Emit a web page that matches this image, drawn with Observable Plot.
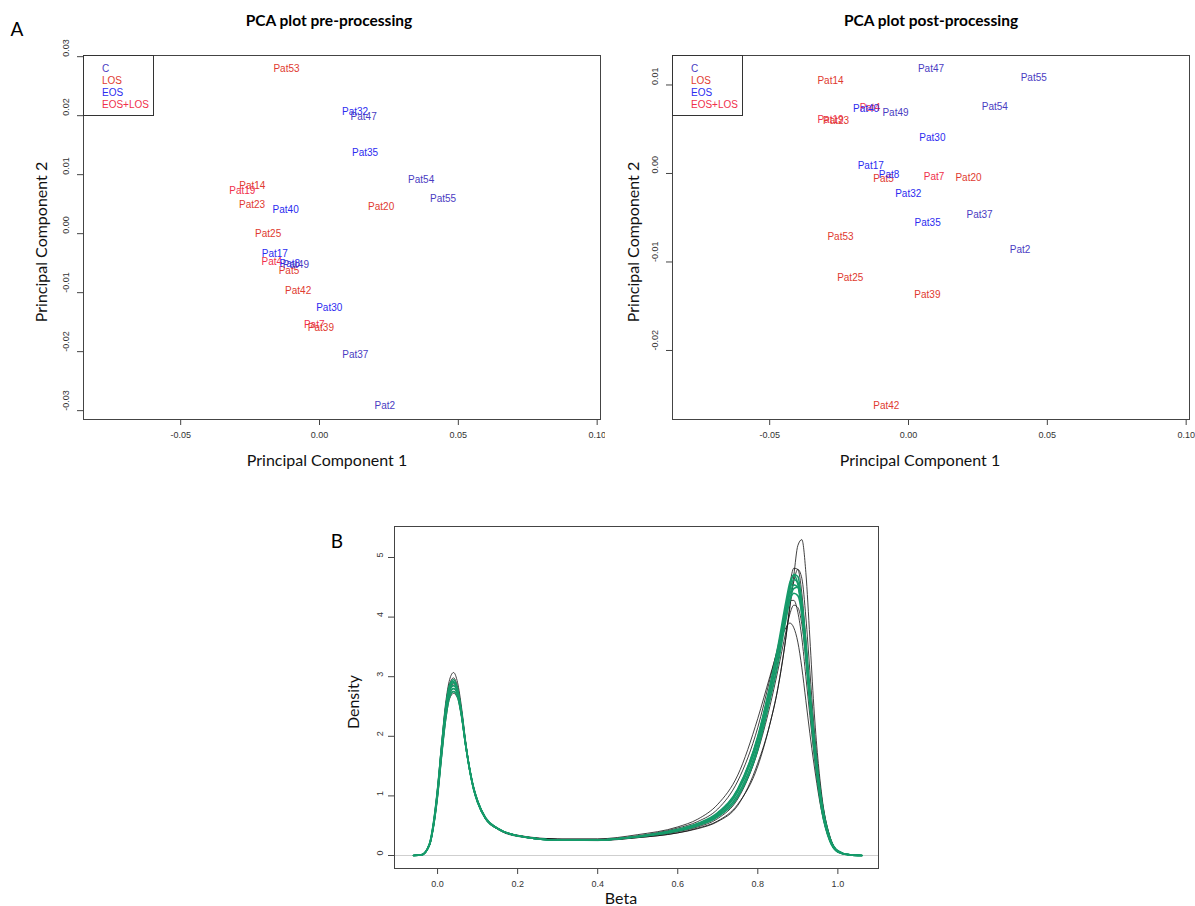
<!DOCTYPE html>
<html><head><meta charset="utf-8">
<script src="https://cdn.jsdelivr.net/npm/d3@7"></script>
<script src="https://cdn.jsdelivr.net/npm/@observablehq/plot@0.6"></script>
<style>
body{margin:0;background:#fff;}
#wrap{position:relative;width:1195px;height:906px;overflow:hidden;font-family:"Liberation Sans",Arial,sans-serif;background:#fff;}
.abs{position:absolute;}
.title{font-family:Lato,"Open Sans",sans-serif;font-weight:bold;font-size:15.5px;color:#000;transform:translate(-50%,-50%);white-space:nowrap;}
.axt{font-family:Lato,"Open Sans",sans-serif;font-size:16px;color:#111;transform:translate(-50%,-50%);white-space:nowrap;}
.rot{transform:translate(-50%,-50%) rotate(-90deg);}
.panel{font-family:Lato,"Open Sans",sans-serif;font-size:19px;color:#000;transform:translate(-50%,-50%);}
.legend{border:1px solid #333;box-sizing:border-box;font-size:10px;font-family:"Liberation Sans",Arial,sans-serif;}
.legend div{position:absolute;left:18px;white-space:nowrap;transform:translateY(-50%);}
.chart{position:absolute;}
</style>
</head><body>
<div id="wrap"></div>
<script>
// ---------- PCA data ----------
const patients = ["Pat2","Pat4","Pat5","Pat7","Pat8","Pat14","Pat17","Pat19","Pat20","Pat23","Pat25","Pat30","Pat32","Pat35","Pat37","Pat39","Pat40","Pat42","Pat47","Pat49","Pat53","Pat54","Pat55"];
const groups   = ["C","EOS+LOS","LOS","EOS+LOS","EOS","LOS","EOS","EOS+LOS","LOS","LOS","LOS","EOS","EOS","EOS","C","LOS","EOS","LOS","C","C","LOS","C","C"];
const pc1Pre  = [0.0235,-0.0172,-0.0110,-0.0019,-0.0107,-0.0242,-0.0161,-0.0278,0.0222,-0.0243,-0.0185,0.0035,0.0128,0.0164,0.0129,0.0005,-0.0122,-0.0077,0.0159,-0.0085,-0.0119,0.0366,0.0445];
const pc2Pre  = [-0.0292,-0.0047,-0.0063,-0.0155,-0.0051,0.0081,-0.0034,0.0073,0.0046,0.0049,0.0000,-0.0125,0.0206,0.0137,-0.0206,-0.0159,0.0041,-0.0097,0.0198,-0.0053,0.0279,0.0091,0.0059];
const pc1Post = [0.0402,-0.0139,-0.0090,0.0092,-0.0070,-0.0281,-0.0136,-0.0281,0.0216,-0.0261,-0.0210,0.0086,-0.0001,0.0069,0.0256,0.0068,-0.0153,-0.0080,0.0081,-0.0047,-0.0245,0.0311,0.0451];
const pc2Post = [-0.0086,0.0074,-0.0006,-0.0004,-0.0001,0.0105,0.0009,0.0061,-0.0005,0.0059,-0.0118,0.0040,-0.0023,-0.0056,-0.0047,-0.0137,0.0073,-0.0263,0.0118,0.0068,-0.0072,0.0075,0.0108];
const groupNames  = ["C","LOS","EOS","EOS+LOS"];
const groupColors = ["#4a3cc2","#e03a30","#2c2cf0","#f0304c"];
const pcaXTicks = [-0.05,0,0.05,0.10];
const preYTicks = [-0.03,-0.02,-0.01,0,0.01,0.02,0.03];
const postYTicks = [-0.02,-0.01,0,0.01];

// ---------- Density data ----------
const betaGrid = [-0.06,-0.04,-0.02,-0.01,0,0.01,0.02,0.03,0.04,0.05,0.06,0.07,0.08,0.09,0.1,0.12,0.15,0.2,0.3,0.4,0.5,0.6,0.65,0.7,0.75,0.8,0.83,0.85,0.87,0.88,0.89,0.9,0.91,0.92,0.93,0.94,0.96,0.98,1.0,1.03,1.06];
const raw1 = [0,0.01,0.2,0.56,1.14,1.88,2.55,2.95,3.07,2.9,2.48,1.93,1.47,1.13,0.9,0.61,0.44,0.32,0.26,0.25,0.3,0.38,0.46,0.58,0.86,1.5,2.2,2.8,3.65,4.15,4.7,5.2,5.3,4.75,3.65,2.5,1.0,0.32,0.08,0.01,0];
const raw2 = [0,0.01,0.19,0.54,1.1,1.82,2.48,2.88,2.98,2.82,2.42,1.9,1.46,1.12,0.9,0.62,0.45,0.33,0.27,0.26,0.31,0.41,0.5,0.65,0.98,1.78,2.62,3.25,4.1,4.55,4.82,4.8,4.4,3.62,2.75,1.98,0.82,0.26,0.06,0.01,0];
const raw3 = [0,0.01,0.18,0.51,1.04,1.73,2.37,2.78,2.88,2.76,2.38,1.88,1.46,1.13,0.91,0.63,0.45,0.33,0.27,0.26,0.3,0.38,0.45,0.57,0.84,1.55,2.2,2.8,3.65,4.2,4.6,4.8,4.65,4.0,3.1,2.2,0.95,0.32,0.08,0.01,0];
const raw4 = [0,0.01,0.17,0.49,0.99,1.65,2.25,2.63,2.72,2.64,2.32,1.86,1.46,1.15,0.93,0.64,0.46,0.34,0.28,0.28,0.35,0.48,0.61,0.86,1.35,2.3,3.0,3.45,3.82,3.9,3.82,3.58,3.15,2.6,2.05,1.55,0.72,0.24,0.06,0.01,0];
const raw5 = [0,0.01,0.18,0.5,1.02,1.7,2.32,2.7,2.8,2.7,2.35,1.87,1.46,1.14,0.92,0.63,0.46,0.34,0.27,0.27,0.33,0.46,0.57,0.78,1.25,2.15,2.95,3.5,4.1,4.28,4.28,4.08,3.65,3.0,2.35,1.72,0.75,0.25,0.06,0.01,0];
const raw6 = [0,0.01,0.19,0.52,1.05,1.75,2.38,2.76,2.85,2.73,2.36,1.87,1.45,1.13,0.91,0.63,0.45,0.33,0.27,0.26,0.31,0.4,0.48,0.62,0.95,1.75,2.5,3.1,3.75,4.05,4.2,4.16,3.88,3.3,2.62,1.95,0.88,0.3,0.08,0.01,0];
const norm1 = [0,0.01,0.2,0.55,1.1,1.82,2.47,2.86,2.95,2.8,2.4,1.88,1.45,1.12,0.9,0.62,0.45,0.33,0.26,0.26,0.32,0.42,0.51,0.67,1.02,1.85,2.7,3.35,4.15,4.5,4.72,4.68,4.25,3.5,2.65,1.9,0.8,0.26,0.06,0.01,0];
const norm2 = [0,0.01,0.19,0.53,1.08,1.78,2.42,2.8,2.9,2.77,2.38,1.87,1.45,1.12,0.9,0.62,0.45,0.33,0.26,0.26,0.32,0.43,0.52,0.69,1.07,1.92,2.75,3.38,4.12,4.45,4.63,4.58,4.2,3.48,2.65,1.92,0.82,0.27,0.07,0.01,0];
const norm3 = [0,0.01,0.19,0.52,1.05,1.75,2.38,2.76,2.85,2.73,2.36,1.86,1.44,1.12,0.9,0.62,0.45,0.33,0.26,0.26,0.32,0.43,0.53,0.7,1.1,1.97,2.8,3.4,4.08,4.38,4.54,4.5,4.15,3.45,2.65,1.95,0.85,0.28,0.07,0.01,0];
const norm4 = [0,0.01,0.18,0.5,1.02,1.7,2.33,2.71,2.8,2.7,2.35,1.86,1.45,1.13,0.91,0.63,0.45,0.33,0.26,0.26,0.31,0.41,0.5,0.65,0.98,1.78,2.6,3.2,3.95,4.3,4.48,4.5,4.22,3.6,2.8,2.05,0.9,0.3,0.08,0.01,0];
const norm5 = [0,0.01,0.2,0.56,1.12,1.83,2.46,2.84,2.92,2.76,2.37,1.86,1.44,1.11,0.89,0.62,0.45,0.33,0.26,0.26,0.32,0.44,0.54,0.72,1.12,2.0,2.85,3.5,4.25,4.58,4.7,4.55,4.05,3.3,2.5,1.8,0.75,0.24,0.06,0.01,0];
const norm6 = [0,0.01,0.18,0.5,1.0,1.67,2.28,2.66,2.75,2.66,2.33,1.86,1.46,1.14,0.92,0.63,0.46,0.33,0.26,0.26,0.32,0.43,0.53,0.7,1.1,1.98,2.8,3.38,4.0,4.28,4.4,4.36,4.05,3.4,2.62,1.93,0.85,0.28,0.07,0.01,0];
const betaTicks = [0,0.2,0.4,0.6,0.8,1.0];
const densTicks = [0,1,2,3,4,5];

// ---------- helpers ----------
const wrap = document.getElementById("wrap");
function addDiv(cls, text, left, top, style) {
  const d = document.createElement("div");
  d.className = "abs " + cls;
  d.textContent = text;
  d.style.left = left + "px";
  d.style.top = top + "px";
  if (style) Object.assign(d.style, style);
  wrap.appendChild(d);
  return d;
}
function place(svg, left, top) {
  const holder = document.createElement("div");
  holder.className = "chart";
  holder.style.left = left + "px";
  holder.style.top = top + "px";
  holder.appendChild(svg);
  wrap.appendChild(holder);
}

const pcaXDomain = [-0.085, 0.1012];

function pcaPlot(pc1, pc2, yDomain, yTicks, marginLeft, marginRight) {
  const data = patients.map((p, i) => ({name: p, group: groups[i], x: pc1[i], y: pc2[i]}));
  return Plot.plot({
    width: 605, height: 470,
    marginLeft, marginRight, marginTop: 55, marginBottom: 51,
    style: {fontFamily: "'Liberation Sans', Arial, sans-serif", background: "transparent", color: "#333"},
    x: {domain: pcaXDomain},
    y: {domain: yDomain},
    color: {domain: groupNames, range: groupColors},
    marks: [
      Plot.frame({stroke: "#444", strokeWidth: 1}),
      Plot.axisX({ticks: pcaXTicks, tickFormat: d => d.toFixed(2), tickSize: 6, tickPadding: 6, fontSize: 9, label: null, stroke: "#444"}),
      Plot.axisY({ticks: yTicks, tickFormat: () => "", tickSize: 6, label: null, stroke: "#444"}),
      Plot.text(yTicks, {y: d => d, frameAnchor: "left", dx: -17, rotate: -90, text: d => d.toFixed(2), fontSize: 9, fill: "#333"}),
      Plot.text(data, {x: "x", y: "y", text: "name", fill: "group", fontSize: 10})
    ]
  });
}

function legendBox(left, top) {
  const box = document.createElement("div");
  box.className = "abs legend";
  Object.assign(box.style, {left: left + "px", top: top + "px", width: "71px", height: "61px"});
  groupNames.forEach((g, i) => {
    const t = document.createElement("div");
    t.textContent = g;
    t.style.top = (11.5 + i * 12.2) + "px";
    t.style.color = groupColors[i];
    box.appendChild(t);
  });
  wrap.appendChild(box);
}

// ---------- Panel A ----------
addDiv("panel", "A", 17, 28);
addDiv("title", "PCA plot pre-processing", 329, 20);
addDiv("title", "PCA plot post-processing", 931, 20);

place(pcaPlot(pc1Pre, pc2Pre, [-0.0315, 0.0302], preYTicks, 83, 5), 0, 0);
place(pcaPlot(pc1Post, pc2Post, [-0.0278, 0.01333], postYTicks, 82, 6), 590, 0);
legendBox(83, 55);
legendBox(672, 55);

addDiv("axt", "Principal Component 1", 327, 459);
addDiv("axt", "Principal Component 1", 920, 459);
addDiv("axt rot", "Principal Component 2", 40, 242);
addDiv("axt rot", "Principal Component 2", 632, 242);

// ---------- Panel B ----------
const rawSets = [raw1, raw2, raw3, raw4, raw5, raw6];
const normSets = [norm1, norm2, norm3, norm4, norm5, norm6];
const rawRows = [], normRows = [];
rawSets.forEach((arr, k) => arr.forEach((v, i) => rawRows.push({curve: "raw" + k, beta: betaGrid[i], density: v})));
normSets.forEach((arr, k) => arr.forEach((v, i) => normRows.push({curve: "norm" + k, beta: betaGrid[i], density: v})));

const dens = Plot.plot({
  width: 560, height: 400,
  marginLeft: 54, marginRight: 22, marginTop: 26, marginBottom: 32,
  style: {fontFamily: "'Liberation Sans', Arial, sans-serif", background: "transparent", color: "#333"},
  x: {domain: [-0.1076, 1.1015]},
  y: {domain: [-0.218, 5.52]},
  marks: [
    Plot.ruleY([0], {stroke: "#cfcfcf", strokeWidth: 1}),
    Plot.line(rawRows, {x: "beta", y: "density", z: "curve", stroke: "#111", strokeWidth: 0.8, curve: "monotone-x"}),
    Plot.line(normRows, {x: "beta", y: "density", z: "curve", stroke: "#169a6a", strokeWidth: 1.6, curve: "monotone-x"}),
    Plot.frame({stroke: "#444"}),
    Plot.axisX({ticks: betaTicks, tickFormat: d => d.toFixed(1), tickSize: 6, tickPadding: 6, fontSize: 9, label: null, stroke: "#444"}),
    Plot.axisY({ticks: densTicks, tickFormat: () => "", tickSize: 6, label: null, stroke: "#444"}),
    Plot.text(densTicks, {y: d => d, frameAnchor: "left", dx: -14, rotate: -90, text: d => String(d), fontSize: 9, fill: "#333"})
  ]
});
place(dens, 340, 500);
addDiv("panel", "B", 337, 540);
addDiv("axt rot", "Density", 352, 702);
addDiv("axt", "Beta", 621, 897);
</script>
</body></html>
